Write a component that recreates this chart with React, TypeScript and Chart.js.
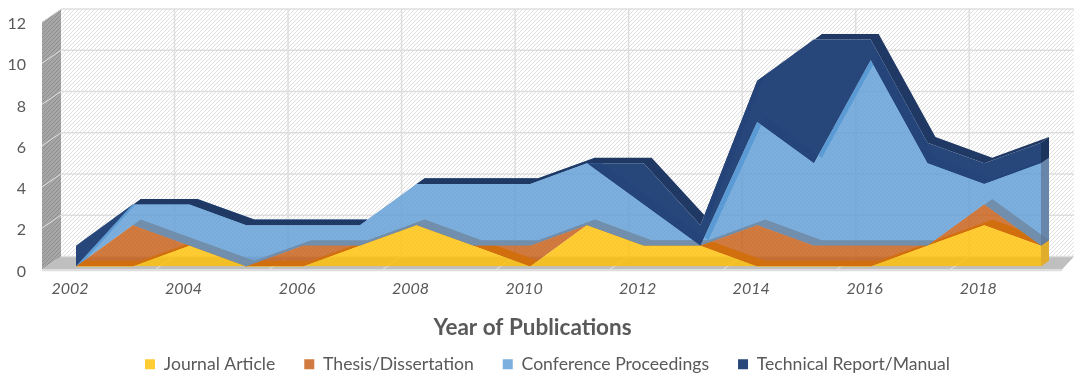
import React, { useEffect, useRef } from "react";
import { Chart, registerables } from "chart.js";

Chart.register(...registerables);

const years = ["2002","2003","2004","2005","2006","2007","2008","2009","2010","2011","2012","2013","2014","2015","2016","2017","2018","2019"];
const journalArticle = [0,0,1,0,0,1,2,1,0,2,1,1,0,0,0,1,2,1];
const thesisDissertation = [0,2,0,0,1,0,0,0,1,0,0,0,2,1,1,0,1,0];
const conferenceProceedings = [0,1,2,2,1,1,2,3,3,3,2,0,5,4,9,4,1,4];
const technicalReport = [1,0,0,0,0,0,0,0,0,0,2,1,2,6,1,1,1,1];

const seriesNames = ["Journal Article","Thesis/Dissertation","Conference Proceedings","Technical Report/Manual"];
const seriesValues = [journalArticle, thesisDissertation, conferenceProceedings, technicalReport];
const faceColors = ["rgba(255,192,0,0.8)","rgba(197,90,17,0.8)","rgba(91,155,213,0.8)","rgba(36,68,120,0.99)"];
const ribbonColors = ["#FFC000","#C55A11","#5B9BD5","#1F3864"];
const capColors = ["#E0AE2C","#C55A11","rgba(96,128,165,0.95)","#1B355F"];

const FONT = "Lato, 'Open Sans', sans-serif";
const TEXT = "#595959";
const RIBBON_DX = 8, RIBBON_DY = -5.6;
const BACK_DX = -15, BACK_DY = -10;
const WALL_FRONT_DX = -34, WALL_FRONT_DY = 3;

function hatch(ctx: CanvasRenderingContext2D, bg: string, fg: string) {
  const c = document.createElement("canvas");
  c.width = 4; c.height = 4;
  const g = c.getContext("2d")!;
  g.fillStyle = bg; g.fillRect(0,0,4,4);
  g.strokeStyle = fg; g.lineWidth = 1;
  g.beginPath();
  g.moveTo(-1,5); g.lineTo(5,-1);
  g.moveTo(-1,1); g.lineTo(1,-1);
  g.moveTo(3,5); g.lineTo(5,3);
  g.stroke();
  return ctx.createPattern(c,"repeat")!;
}

const poly = (ctx: CanvasRenderingContext2D, pts: number[][], fill: any) => {
  ctx.beginPath();
  pts.forEach((p,i)=> i ? ctx.lineTo(p[0],p[1]) : ctx.moveTo(p[0],p[1]));
  ctx.closePath();
  ctx.fillStyle = fill;
  ctx.fill();
};
const seg = (ctx: CanvasRenderingContext2D, a: number[], b: number[], color: string, w: number) => {
  ctx.beginPath(); ctx.moveTo(a[0],a[1]); ctx.lineTo(b[0],b[1]);
  ctx.strokeStyle = color; ctx.lineWidth = w; ctx.stroke();
};

const scene3d = {
  id: "scene3d",
  afterLayout(chart: any) {
    if (chart.legend) { chart.legend.left += 27; chart.legend.right += 27; }
    if (chart.titleBlock) {
      chart.titleBlock.left += 12; chart.titleBlock.right += 12;
      chart.titleBlock.top += 15; chart.titleBlock.bottom += 15;
    }
  },
  beforeDatasetsDraw(chart: any) {
    const ctx: CanvasRenderingContext2D = chart.ctx;
    const xs = chart.scales.x, ys = chart.scales.y;
    const W = chart.width;
    const x0 = xs.getPixelForValue(0);
    const yv = (v: number) => ys.getPixelForValue(v);
    const yBack0 = yv(0)+BACK_DY, yBackT = yv(12)+BACK_DY;
    const yFront0 = yv(0)+WALL_FRONT_DY, yFrontT = yv(12)+WALL_FRONT_DY;
    const xBackL = x0+BACK_DX, xFrontL = x0+WALL_FRONT_DX;
    ctx.save();
    // back wall
    poly(ctx, [[xBackL,yBackT],[W,yBackT],[W,yBack0],[xBackL,yBack0]], hatch(ctx,"#FFFFFF","#DFDFDF"));
    // left wall
    poly(ctx, [[xFrontL,yFrontT],[xBackL,yBackT],[xBackL,yBack0],[xFrontL,yFront0]], hatch(ctx,"#A6A6A6","#8F8F8F"));
    // floor
    poly(ctx, [[xFrontL,yFront0],[xBackL,yBack0],[W,yBack0],[W-12,yFront0]], "#BFBFBF");
    // grid
    ys.ticks.forEach((t: any) => {
      const v = t.value;
      seg(ctx,[xBackL,yv(v)+BACK_DY],[W,yv(v)+BACK_DY],"#DEDEDE",1.5);
      if (v>0) seg(ctx,[xFrontL,yv(v)+WALL_FRONT_DY],[xBackL,yv(v)+BACK_DY],"#E4E4E4",1);
    });
    years.forEach((_,i) => {
      if (i%2===0 && i>0) {
        const x = xs.getPixelForValue(i);
        seg(ctx,[x+BACK_DX,yBackT],[x+BACK_DX,yBack0],"#DEDEDE",1.5);
        seg(ctx,[x+BACK_DX,yBack0],[x+BACK_DX-19,yFront0],"#E4E4E4",1);
      }
    });
    seg(ctx,[xFrontL,yFront0+1],[W-12,yFront0+1],"#DDDDDD",1.5);
    // ribbons (top surfaces) and the end cap of each stacked series
    const metas = seriesValues.map((_,k)=>chart.getDatasetMeta(k).data as any[]);
    metas.forEach((pts,k) => {
      const top = pts.map((p:any)=>[p.x,p.y]);
      const back = top.map(p=>[p[0]+RIBBON_DX,p[1]+RIBBON_DY]).reverse();
      poly(ctx,[...top,...back],ribbonColors[k]);
      const last = top[top.length-1];
      const lower = k ? [metas[k-1][top.length-1].x, metas[k-1][top.length-1].y] : [last[0], yv(0)];
      if (Math.abs(lower[1]-last[1])>0.5) {
        poly(ctx,[last,[last[0]+RIBBON_DX,last[1]+RIBBON_DY],[lower[0]+RIBBON_DX,lower[1]+RIBBON_DY],lower],capColors[k]);
      }
    });
    ctx.restore();
  },
};

export default function App() {
  const ref = useRef<HTMLCanvasElement>(null);
  useEffect(() => {
    const chart = new Chart(ref.current!, {
      type: "line",
      data: {
        labels: years,
        datasets: seriesNames.map((name,k)=>({
          label: name,
          data: seriesValues[k],
          backgroundColor: faceColors[k],
          borderColor: faceColors[k],
          borderWidth: 0,
          pointRadius: 0,
          tension: 0,
          fill: k===0 ? "origin" : "-1",
        })),
      },
      options: {
        animation: false,
        responsive: false,
        layout: { padding: { top: 19, right: 33, bottom: -6, left: 0 } },
        scales: {
          x: {
            offset: false,
            stacked: true,
            grid: { display: false },
            border: { display: false },
            afterFit(s: any) { s.height = 33; },
            ticks: {
              autoSkip: false, maxRotation: 0, padding: 5, labelOffset: -6,
              color: TEXT, font: { family: FONT, size: 16, style: "italic" },
              callback(this: any, v: any, i: number) { return i%2===0 ? this.getLabelForValue(v) : ""; },
            },
          },
          y: {
            min: 0, max: 12, stacked: true,
            grid: { display: false, tickLength: 48 },
            border: { display: false },
            afterFit(s: any) { s.width = 76; },
            ticks: {
              stepSize: 2, padding: 2, labelOffset: 5,
              color: TEXT, font: { family: FONT, size: 16 },
            },
          },
        },
        plugins: {
          tooltip: { enabled: false },
          title: {
            display: true, text: "Year of Publications", position: "bottom", weight: 500,
            color: TEXT, font: { family: FONT, size: 22.5, weight: "bold" }, padding: 0,
          },
          legend: {
            position: "bottom", weight: 3000,
            labels: { boxWidth: 10, boxHeight: 10, padding: 29, color: TEXT, font: { family: FONT, size: 17.6 } },
          },
        },
      } as any,
      plugins: [scene3d],
    });
    return () => chart.destroy();
  }, []);
  return <canvas ref={ref} width={1074} height={377} style={{ position: "absolute", left: 0, top: 0 }} />;
}
